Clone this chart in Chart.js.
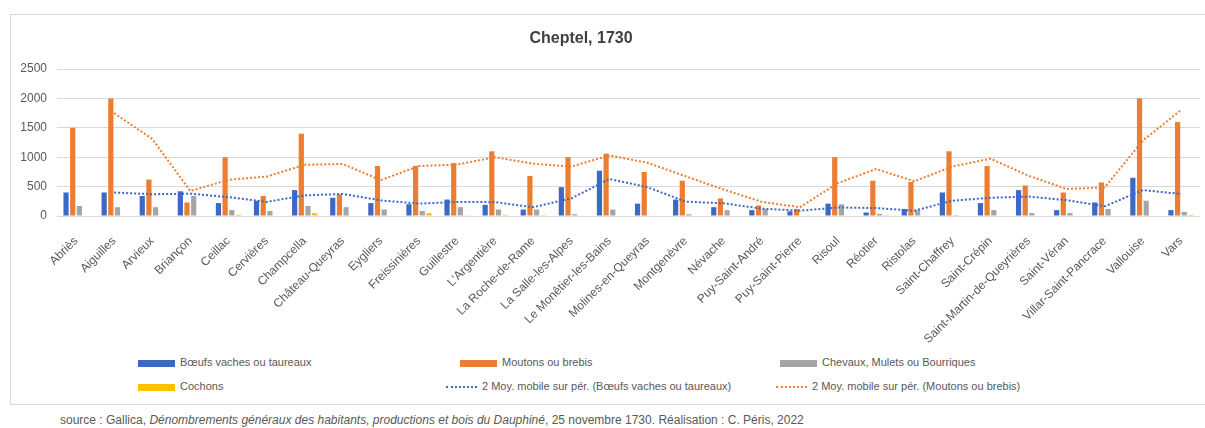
<!DOCTYPE html>
<html>
<head>
<meta charset="utf-8">
<script src="https://cdn.jsdelivr.net/npm/chart.js@4/dist/chart.umd.min.js"></script>
<style>
  body { margin: 0; background: #fff; font-family: "Liberation Sans", Arial, sans-serif; color: #595959; }
  #frame { position: absolute; left: 10px; top: 14px; width: 1200px; height: 391px; border: 1px solid #d9d9d9; box-sizing: border-box; }
  #wrap { position: absolute; left: 10px; top: 14px; width: 1195px; height: 334px; }
  .item { position: absolute; font-size: 11px; line-height: 14px; white-space: nowrap; }
  .sw { display: inline-block; vertical-align: middle; margin-right: 5px; }
  .bar { width: 37px; height: 7px; }
  .dot { width: 31px; height: 0; border-top: 2px dotted; }
  #source { position: absolute; left: 60px; top: 413px; font-size: 12px; white-space: nowrap; }
</style>
</head>
<body>
<div id="frame"></div>
<div id="wrap"><canvas id="chart" width="1195" height="334"></canvas></div>
<div id="legend"></div>
<div id="source">source : Gallica, <i>Dénombrements généraux des habitants, productions et bois du Dauphiné</i>, 25 novembre 1730. Réalisation : C. Péris, 2022</div>
<script>
const communes = ["Abriès", "Aiguilles", "Arvieux", "Briançon", "Ceillac", "Cervières", "Champcella",
  "Château-Queyras", "Eygliers", "Freissinières", "Guillestre", "L'Argentière", "La Roche-de-Rame",
  "La Salle-les-Alpes", "Le Monêtier-les-Bains", "Molines-en-Queyras", "Montgenèvre", "Névache",
  "Puy-Saint-André", "Puy-Saint-Pierre", "Risoul", "Réotier", "Ristolas", "Saint-Chaffrey",
  "Saint-Crépin", "Saint-Martin-de-Queyrières", "Saint-Véran", "Villar-Saint-Pancrace", "Vallouise", "Vars"];

const boeufs = [400, 400, 340, 420, 220, 260, 440, 310, 220, 200, 280, 190, 110, 490, 770,
  210, 280, 150, 100, 80, 210, 60, 120, 400, 220, 440, 100, 230, 650, 100];
const moutons = [1500, 2000, 620, 230, 1000, 340, 1400, 370, 850, 850, 900, 1100, 680, 1000, 1060,
  750, 600, 300, 180, 120, 1000, 600, 580, 1100, 850, 520, 400, 570, 2000, 1600];
const chevaux = [170, 150, 150, 340, 100, 85, 170, 150, 110, 85, 150, 110, 110, 30, 110,
  10, 30, 100, 120, 0, 200, 35, 100, 15, 100, 50, 50, 120, 260, 70];
const cochons = [0, 0, 0, 0, 20, 0, 50, 0, 10, 50, 5, 20, 15, 0, 0,
  0, 0, 0, 0, 0, 10, 15, 0, 0, 10, 0, 0, 0, 0, 20];

// moyennes mobiles sur 2 périodes
const moyBoeufs = [null, 400, 370, 380, 320, 240, 350, 375, 265, 210, 240, 235, 150, 300, 630,
  490, 245, 215, 125, 90, 145, 135, 90, 260, 310, 330, 270, 165, 440, 375];
const moyMoutons = [null, 1750, 1310, 425, 615, 670, 870, 885, 610, 850, 875, 1000, 890, 840, 1030,
  905, 675, 450, 240, 150, 560, 800, 590, 840, 975, 685, 460, 485, 1285, 1800];

const yTicks = [0, 500, 1000, 1500, 2000, 2500];
const titre = "Cheptel, 1730";

const colors = { blue: "#3c69c6", orange: "#ed7d31", gray: "#a5a5a5", gold: "#ffc000" };

const barSet = (label, data, color) => ({
  type: "bar", label, data, backgroundColor: color, order: 2,
  categoryPercentage: 0.7, barPercentage: 0.78
});
const lineSet = (label, data, color) => ({
  type: "line", label, data, borderColor: color, backgroundColor: color, borderWidth: 2,
  borderDash: [2, 2], pointRadius: 0, tension: 0, order: 1, spanGaps: false
});

// titre dessiné un peu à gauche du centre, comme dans l'original
const titlePlugin = {
  id: "titre",
  afterDraw(c) {
    const ctx = c.ctx;
    ctx.save();
    ctx.font = "bold 16px 'Liberation Sans'";
    ctx.fillStyle = "#404040";
    ctx.textAlign = "center";
    ctx.textBaseline = "middle";
    ctx.fillText(titre, 571, 25);
    ctx.restore();
  }
};

const chart = new Chart(document.getElementById("chart"), {
  type: "bar",
  data: {
    labels: communes,
    datasets: [
      barSet("Bœufs vaches ou taureaux", boeufs, colors.blue),
      barSet("Moutons ou brebis", moutons, colors.orange),
      barSet("Chevaux, Mulets ou Bourriques", chevaux, colors.gray),
      barSet("Cochons", cochons, colors.gold),
      lineSet("2 Moy. mobile sur pér. (Bœufs vaches ou taureaux)", moyBoeufs, colors.blue),
      lineSet("2 Moy. mobile sur pér. (Moutons ou brebis)", moyMoutons, colors.orange)
    ]
  },
  plugins: [titlePlugin],
  options: {
    responsive: false,
    animation: false,
    devicePixelRatio: 1,
    layout: { padding: { top: 55, right: 5 } },
    plugins: {
      legend: { display: false },
      tooltip: { enabled: false },
      title: { display: false }
    },
    scales: {
      x: {
        grid: { display: false },
        border: { display: false },
        ticks: {
          color: "#595959", autoSkip: false, minRotation: 45, maxRotation: 45, padding: 10,
          font: { family: "Liberation Sans", size: 12 }
        },
        afterFit: s => { s.height = 132; }
      },
      y: {
        min: 0, max: 2500,
        afterBuildTicks: s => { s.ticks = yTicks.map(v => ({ value: v })); },
        grid: { color: "#d9d9d9", lineWidth: 1, drawTicks: false },
        border: { display: false },
        ticks: {
          color: "#595959", padding: 10, font: { family: "Liberation Sans", size: 12 },
          callback: v => String(v)
        },
        afterFit: s => { s.width = 47; }
      }
    }
  }
});

// légende en HTML, disposée comme dans l'original
const legendPos = [[138, 355], [460, 355], [780, 355], [138, 379], [446, 379], [776, 379]];
const legend = document.getElementById("legend");
chart.data.datasets.forEach((ds, i) => {
  const d = document.createElement("div");
  d.className = "item";
  d.style.left = legendPos[i][0] + "px";
  d.style.top = legendPos[i][1] + "px";
  const sw = ds.type === "line"
    ? `<span class="sw dot" style="border-color:${ds.borderColor}"></span>`
    : `<span class="sw bar" style="background:${ds.backgroundColor}"></span>`;
  d.innerHTML = sw + ds.label;
  legend.appendChild(d);
});
</script>
</body>
</html>
